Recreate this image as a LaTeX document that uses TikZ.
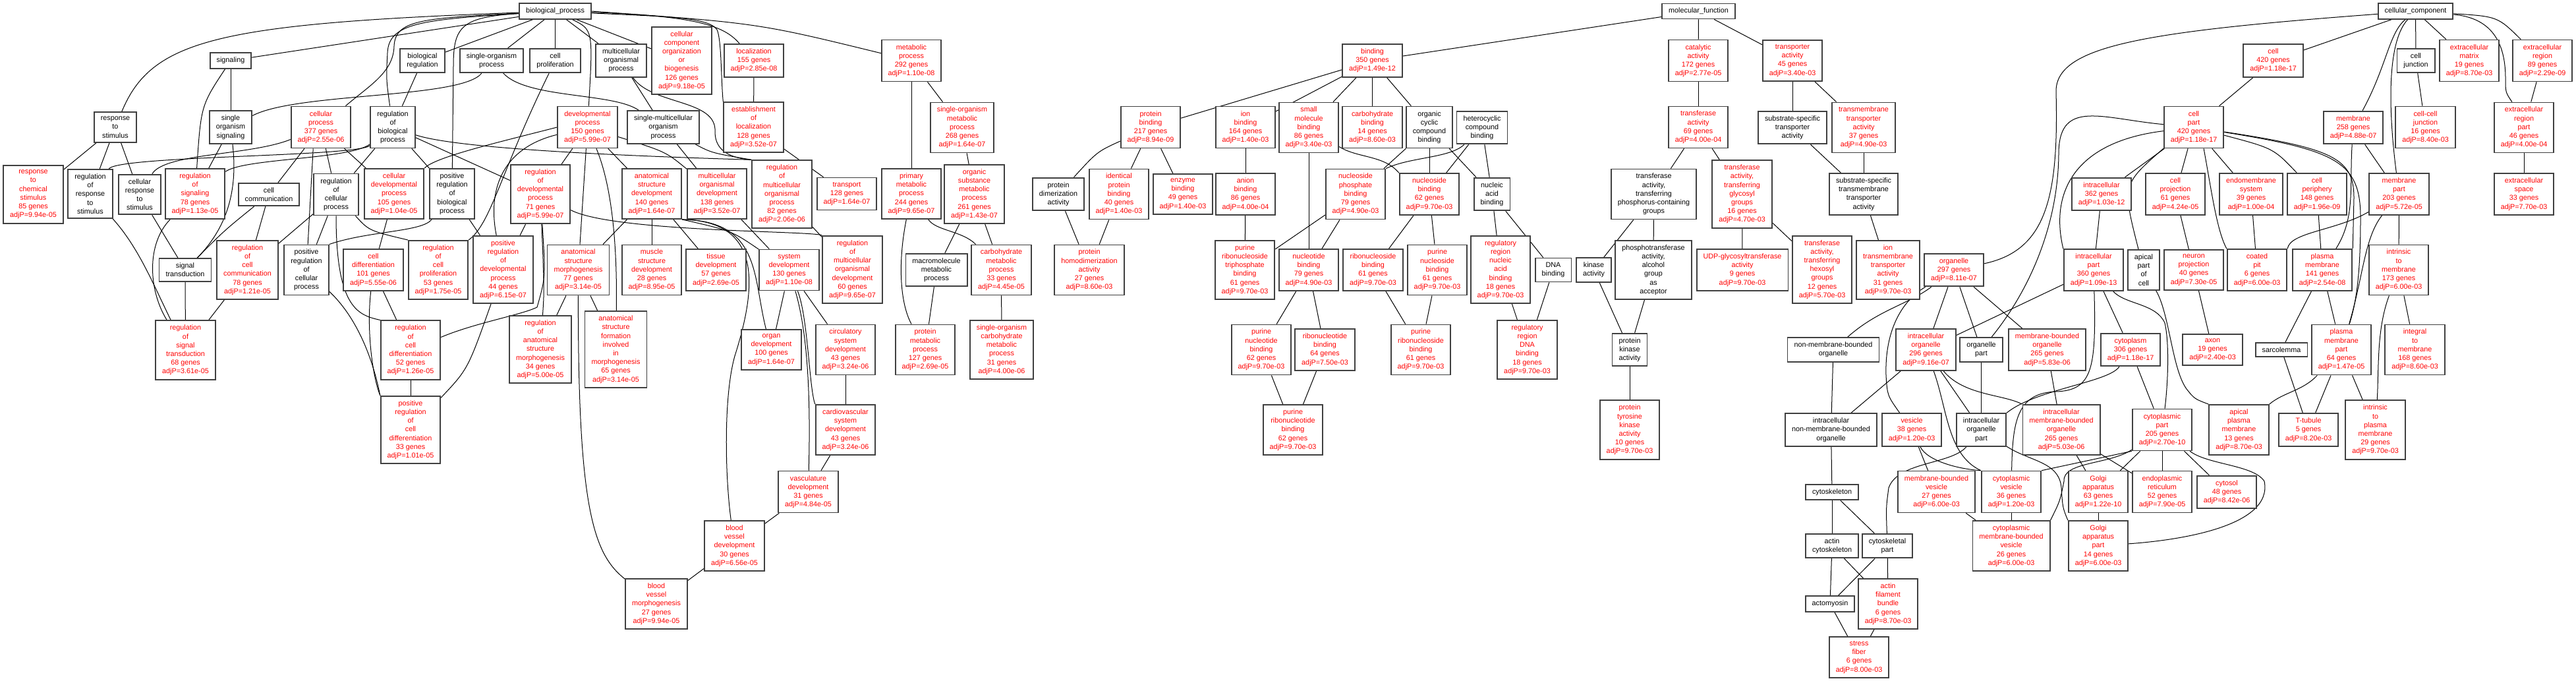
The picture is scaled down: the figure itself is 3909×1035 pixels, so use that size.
\documentclass[tikz,border=0pt]{standalone}
\usepackage{fontspec}
\newfontfamily\gofont{Liberation Sans}
\pgfdeclarelayer{bg}
\pgfdeclarelayer{edges}
\pgfsetlayers{bg,edges,main}

\begin{document}
\begin{tikzpicture}[x=0.5pt,y=-0.5pt,
  goterm/.style={draw=black!75,line width=0.9pt,fill=white,align=center,
    inner xsep=5pt,inner ysep=3.3pt,font={\gofont\fontsize{5.4}{6.6}\selectfont}},
  sigterm/.style={goterm,text=red},
  goedge/.style={line width=0.5pt,black}]
  \useasboundingbox (0,0) rectangle (3909,1035);
  \begin{pgfonlayer}{bg}
    \fill[white] (0,0) rectangle (3909,1035);
  \end{pgfonlayer}

  % biological process
  \node[goterm] (bp) at (842.5,17) {biological\_process};
  \node[goterm] (sig) at (350,92) {signaling};
  \node[goterm] (breg) at (641,92) {biological\\regulation};
  \node[goterm] (soproc) at (746,92) {single-organism\\process};
  \node[goterm] (cprolif) at (842.5,92) {cell\\proliferation};
  \node[goterm] (mop) at (942.5,92) {multicellular\\organismal\\process};
  \node[sigterm] (ccob) at (1034.5,92) {cellular\\component\\organization\\or\\biogenesis\\126 genes\\adjP=9.18e-05};
  \node[sigterm] (loc) at (1144,92) {localization\\155 genes\\adjP=2.85e-08};
  \node[sigterm] (metab) at (1383,92) {metabolic\\process\\292 genes\\adjP=1.10e-08};
  \node[goterm] (resp) at (175,193) {response\\to\\stimulus};
  \node[goterm] (sosig) at (350,193) {single\\organism\\signaling};
  \node[sigterm] (cproc) at (487,193) {cellular\\process\\377 genes\\adjP=2.55e-06};
  \node[goterm] (rbp) at (596,193) {regulation\\of\\biological\\process};
  \node[sigterm] (dev) at (891.5,193) {developmental\\process\\150 genes\\adjP=5.99e-07};
  \node[goterm] (smop) at (1006.5,193) {single-multicellular\\organism\\process};
  \node[sigterm] (estloc) at (1143.5,193) {establishment\\of\\localization\\128 genes\\adjP=3.52e-07};
  \node[sigterm] (sometab) at (1460,193.5) {single-organism\\metabolic\\process\\268 genes\\adjP=1.64e-07};
  \node[sigterm] (rchem) at (50.5,295) {response\\to\\chemical\\stimulus\\85 genes\\adjP=9.94e-05};
  \node[goterm] (rresp) at (137,294) {regulation\\of\\response\\to\\stimulus};
  \node[goterm] (cresp) at (212,295) {cellular\\response\\to\\stimulus};
  \node[sigterm] (rsig) at (296,294) {regulation\\of\\signaling\\78 genes\\adjP=1.13e-05};
  \node[goterm] (ccomm) at (408,295) {cell\\communication};
  \node[goterm] (rcproc) at (510,295) {regulation\\of\\cellular\\process};
  \node[sigterm] (cdev) at (598,294) {cellular\\developmental\\process\\105 genes\\adjP=1.04e-05};
  \node[goterm] (prbp) at (686,294) {positive\\regulation\\of\\biological\\process};
  \node[sigterm] (rdev) at (820,294.5) {regulation\\of\\developmental\\process\\71 genes\\adjP=5.99e-07};
  \node[sigterm] (asdev) at (989,294) {anatomical\\structure\\development\\140 genes\\adjP=1.64e-07};
  \node[sigterm] (modev) at (1088,294) {multicellular\\organismal\\development\\138 genes\\adjP=3.52e-07};
  \node[sigterm] (rmop) at (1186.5,294.5) {regulation\\of\\multicellular\\organismal\\process\\82 genes\\adjP=2.06e-06};
  \node[sigterm] (transp) at (1285,294) {transport\\128 genes\\adjP=1.64e-07};
  \node[sigterm] (pmetab) at (1383,294) {primary\\metabolic\\process\\244 genes\\adjP=9.65e-07};
  \node[sigterm] (osmetab) at (1478.5,294.5) {organic\\substance\\metabolic\\process\\261 genes\\adjP=1.43e-07};
  \node[goterm] (sigtr) at (281,409.5) {signal\\transduction};
  \node[sigterm] (rccomm) at (375.5,409.5) {regulation\\of\\cell\\communication\\78 genes\\adjP=1.21e-05};
  \node[goterm] (prcp) at (465,409.5) {positive\\regulation\\of\\cellular\\process};
  \node[sigterm] (cdiff) at (566.5,409.5) {cell\\differentiation\\101 genes\\adjP=5.55e-06};
  \node[sigterm] (rcprolif) at (665,409.5) {regulation\\of\\cell\\proliferation\\53 genes\\adjP=1.75e-05};
  \node[sigterm] (prdev) at (763.5,409) {positive\\regulation\\of\\developmental\\process\\44 genes\\adjP=6.15e-07};
  \node[sigterm] (asmorph) at (877.5,409.5) {anatomical\\structure\\morphogenesis\\77 genes\\adjP=3.14e-05};
  \node[sigterm] (msdev) at (989,409.5) {muscle\\structure\\development\\28 genes\\adjP=8.95e-05};
  \node[sigterm] (tdev) at (1086.5,409.5) {tissue\\development\\57 genes\\adjP=2.69e-05};
  \node[sigterm] (sysdev) at (1197.5,409.5) {system\\development\\130 genes\\adjP=1.10e-08};
  \node[sigterm] (rmodev) at (1293.5,409) {regulation\\of\\multicellular\\organismal\\development\\60 genes\\adjP=9.65e-07};
  \node[goterm] (mmetab) at (1421,409.5) {macromolecule\\metabolic\\process};
  \node[sigterm] (chmetab) at (1519.5,409.5) {carbohydrate\\metabolic\\process\\33 genes\\adjP=4.45e-05};
  \node[sigterm] (rsigtr) at (281.5,531) {regulation\\of\\signal\\transduction\\68 genes\\adjP=3.61e-05};
  \node[sigterm] (rcdiff) at (623,531) {regulation\\of\\cell\\differentiation\\52 genes\\adjP=1.26e-05};
  \node[sigterm] (rasmorph) at (820,530) {regulation\\of\\anatomical\\structure\\morphogenesis\\34 genes\\adjP=5.00e-05};
  \node[sigterm] (asform) at (934.5,530) {anatomical\\structure\\formation\\involved\\in\\morphogenesis\\65 genes\\adjP=3.14e-05};
  \node[sigterm] (orgdev) at (1170.5,530.5) {organ\\development\\100 genes\\adjP=1.64e-07};
  \node[sigterm] (circ) at (1283,530.5) {circulatory\\system\\development\\43 genes\\adjP=3.24e-06};
  \node[sigterm] (protmetab) at (1404,530.5) {protein\\metabolic\\process\\127 genes\\adjP=2.69e-05};
  \node[sigterm] (sochmetab) at (1520,530.5) {single-organism\\carbohydrate\\metabolic\\process\\31 genes\\adjP=4.00e-06};
  \node[sigterm] (prcdiff) at (623,652) {positive\\regulation\\of\\cell\\differentiation\\33 genes\\adjP=1.01e-05};
  \node[sigterm] (cardio) at (1283,652) {cardiovascular\\system\\development\\43 genes\\adjP=3.24e-06};
  \node[sigterm] (vasc) at (1226.5,746) {vasculature\\development\\31 genes\\adjP=4.84e-05};
  \node[sigterm] (bvdev) at (1114.5,828) {blood\\vessel\\development\\30 genes\\adjP=6.56e-05};
  \node[sigterm] (bvmorph) at (996,916) {blood\\vessel\\morphogenesis\\27 genes\\adjP=9.94e-05};

  % molecular function
  \node[goterm] (mf) at (2577.5,17) {molecular\_function};
  \node[sigterm] (bind) at (2082.5,92) {binding\\350 genes\\adjP=1.49e-12};
  \node[sigterm] (cat) at (2577,92) {catalytic\\activity\\172 genes\\adjP=2.77e-05};
  \node[sigterm] (transpact) at (2720,92) {transporter\\activity\\45 genes\\adjP=3.40e-03};
  \node[sigterm] (pbind) at (1746,193) {protein\\binding\\217 genes\\adjP=8.94e-09};
  \node[sigterm] (ionb) at (1890,193) {ion\\binding\\164 genes\\adjP=1.40e-03};
  \node[sigterm] (smb) at (1986,193.5) {small\\molecule\\binding\\86 genes\\adjP=3.40e-03};
  \node[sigterm] (chb) at (2082.5,193) {carbohydrate\\binding\\14 genes\\adjP=8.60e-03};
  \node[goterm] (occb) at (2169,193) {organic\\cyclic\\compound\\binding};
  \node[goterm] (hcb) at (2249,193.5) {heterocyclic\\compound\\binding};
  \node[sigterm] (trans) at (2577,193) {transferase\\activity\\69 genes\\adjP=4.00e-04};
  \node[goterm] (sstrans) at (2720,193.5) {substrate-specific\\transporter\\activity};
  \node[sigterm] (tmtrans) at (2828,193.5) {transmembrane\\transporter\\activity\\37 genes\\adjP=4.90e-03};
  \node[goterm] (pdimer) at (1606,294.5) {protein\\dimerization\\activity};
  \node[sigterm] (idpb) at (1698,294.5) {identical\\protein\\binding\\40 genes\\adjP=1.40e-03};
  \node[sigterm] (enzb) at (1795,294.5) {enzyme\\binding\\49 genes\\adjP=1.40e-03};
  \node[sigterm] (anionb) at (1890,294.5) {anion\\binding\\86 genes\\adjP=4.00e-04};
  \node[sigterm] (npb) at (2057,294.5) {nucleoside\\phosphate\\binding\\79 genes\\adjP=4.90e-03};
  \node[sigterm] (nsb) at (2169,294.5) {nucleoside\\binding\\62 genes\\adjP=9.70e-03};
  \node[goterm] (nab) at (2264,294.5) {nucleic\\acid\\binding};
  \node[goterm] (tpcg) at (2509.5,294.5) {transferase\\activity,\\transferring\\phosphorus-containing\\groups};
  \node[sigterm] (tgly) at (2643.5,294.5) {transferase\\activity,\\transferring\\glycosyl\\groups\\16 genes\\adjP=4.70e-03};
  \node[goterm] (sstmt) at (2828,294.5) {substrate-specific\\transmembrane\\transporter\\activity};
  \node[sigterm] (phomo) at (1653,409.5) {protein\\homodimerization\\activity\\27 genes\\adjP=8.60e-03};
  \node[sigterm] (prntb) at (1889,409.5) {purine\\ribonucleoside\\triphosphate\\binding\\61 genes\\adjP=9.70e-03};
  \node[sigterm] (ntb) at (1986,409.5) {nucleotide\\binding\\79 genes\\adjP=4.90e-03};
  \node[sigterm] (rnsb) at (2083.5,409.5) {ribonucleoside\\binding\\61 genes\\adjP=9.70e-03};
  \node[sigterm] (pnsb) at (2181,409.5) {purine\\nucleoside\\binding\\61 genes\\adjP=9.70e-03};
  \node[sigterm] (rrnab) at (2277,409) {regulatory\\region\\nucleic\\acid\\binding\\18 genes\\adjP=9.70e-03};
  \node[goterm] (dnab) at (2357,409.5) {DNA\\binding};
  \node[goterm] (kin) at (2418.5,409.5) {kinase\\activity};
  \node[goterm] (photr) at (2509,409.5) {phosphotransferase\\activity,\\alcohol\\group\\as\\acceptor};
  \node[sigterm] (udp) at (2644,409.5) {UDP-glycosyltransferase\\activity\\9 genes\\adjP=9.70e-03};
  \node[sigterm] (thex) at (2765,409) {transferase\\activity,\\transferring\\hexosyl\\groups\\12 genes\\adjP=5.70e-03};
  \node[sigterm] (iontm) at (2865,409.5) {ion\\transmembrane\\transporter\\activity\\31 genes\\adjP=9.70e-03};
  \node[sigterm] (pntb) at (1914,530.5) {purine\\nucleotide\\binding\\62 genes\\adjP=9.70e-03};
  \node[sigterm] (rntb) at (2010.5,530.5) {ribonucleotide\\binding\\64 genes\\adjP=7.50e-03};
  \node[sigterm] (prnsb) at (2156,530.5) {purine\\ribonucleoside\\binding\\61 genes\\adjP=9.70e-03};
  \node[sigterm] (rrdna) at (2317.5,530.5) {regulatory\\region\\DNA\\binding\\18 genes\\adjP=9.70e-03};
  \node[goterm] (pkin) at (2473,530.5) {protein\\kinase\\activity};
  \node[sigterm] (purntb) at (1962,652) {purine\\ribonucleotide\\binding\\62 genes\\adjP=9.70e-03};
  \node[sigterm] (ptk) at (2473,652) {protein\\tyrosine\\kinase\\activity\\10 genes\\adjP=9.70e-03};

  % cellular component
  \node[goterm] (cc) at (3665.5,17) {cellular\_component};
  \node[sigterm] (cell) at (3449.5,92) {cell\\420 genes\\adjP=1.18e-17};
  \node[goterm] (cj) at (3666,92) {cell\\junction};
  \node[sigterm] (ecm) at (3747,92) {extracellular\\matrix\\19 genes\\adjP=8.70e-03};
  \node[sigterm] (ecr) at (3858,92) {extracellular\\region\\89 genes\\adjP=2.29e-09};
  \node[sigterm] (cpart) at (3329,193) {cell\\part\\420 genes\\adjP=1.18e-17};
  \node[sigterm] (memb) at (3571,193.5) {membrane\\258 genes\\adjP=4.88e-07};
  \node[sigterm] (ccj) at (3680.5,193) {cell-cell\\junction\\16 genes\\adjP=8.40e-03};
  \node[sigterm] (ecrp) at (3830,193.5) {extracellular\\region\\part\\46 genes\\adjP=4.00e-04};
  \node[sigterm] (intra) at (3189,294.5) {intracellular\\362 genes\\adjP=1.03e-12};
  \node[sigterm] (cproj) at (3301,294.5) {cell\\projection\\61 genes\\adjP=4.24e-05};
  \node[sigterm] (endo) at (3416,294.5) {endomembrane\\system\\39 genes\\adjP=1.00e-04};
  \node[sigterm] (cperi) at (3516,294.5) {cell\\periphery\\148 genes\\adjP=1.96e-09};
  \node[sigterm] (mpart) at (3640.5,294.5) {membrane\\part\\203 genes\\adjP=5.72e-05};
  \node[sigterm] (ecs) at (3830,294.5) {extracellular\\space\\33 genes\\adjP=7.70e-03};
  \node[sigterm] (orgl) at (2965,409.5) {organelle\\297 genes\\adjP=8.11e-07};
  \node[sigterm] (intrap) at (3177,409.5) {intracellular\\part\\360 genes\\adjP=1.09e-13};
  \node[goterm] (apical) at (3253,409.5) {apical\\part\\of\\cell};
  \node[sigterm] (neuron) at (3329,409.5) {neuron\\projection\\40 genes\\adjP=7.30e-05};
  \node[sigterm] (cpit) at (3425,409.5) {coated\\pit\\6 genes\\adjP=6.00e-03};
  \node[sigterm] (pm) at (3524,409.5) {plasma\\membrane\\141 genes\\adjP=2.54e-08};
  \node[sigterm] (itm) at (3640,409.5) {intrinsic\\to\\membrane\\173 genes\\adjP=6.00e-03};
  \node[goterm] (nmbo) at (2782,530.5) {non-membrane-bounded\\organelle};
  \node[sigterm] (intorg) at (2922.5,530.5) {intracellular\\organelle\\296 genes\\adjP=9.16e-07};
  \node[goterm] (orgp) at (3006.5,530.5) {organelle\\part};
  \node[sigterm] (mbo) at (3106.5,530.5) {membrane-bounded\\organelle\\265 genes\\adjP=5.83e-06};
  \node[sigterm] (cyto) at (3233,530.5) {cytoplasm\\306 genes\\adjP=1.18e-17};
  \node[sigterm] (axon) at (3357.5,530.5) {axon\\19 genes\\adjP=2.40e-03};
  \node[goterm] (sarco) at (3462,530.5) {sarcolemma};
  \node[sigterm] (pmp) at (3553,530.5) {plasma\\membrane\\part\\64 genes\\adjP=1.47e-05};
  \node[sigterm] (intm) at (3664.5,530.5) {integral\\to\\membrane\\168 genes\\adjP=8.60e-03};
  \node[goterm] (inmbo) at (2778.5,652) {intracellular\\non-membrane-bounded\\organelle};
  \node[sigterm] (vesicle) at (2901,652) {vesicle\\38 genes\\adjP=1.20e-03};
  \node[goterm] (intorgp) at (3006.5,652) {intracellular\\organelle\\part};
  \node[sigterm] (imbo) at (3128,652) {intracellular\\membrane-bounded\\organelle\\265 genes\\adjP=5.03e-06};
  \node[sigterm] (cytop) at (3281,652) {cytoplasmic\\part\\205 genes\\adjP=2.70e-10};
  \node[sigterm] (apm) at (3397.5,652) {apical\\plasma\\membrane\\13 genes\\adjP=8.70e-03};
  \node[sigterm] (ttub) at (3503,652) {T-tubule\\5 genes\\adjP=8.20e-03};
  \node[sigterm] (itpm) at (3604.5,652) {intrinsic\\to\\plasma\\membrane\\29 genes\\adjP=9.70e-03};
  \node[goterm] (cytsk) at (2780,746.7) {cytoskeleton};
  \node[sigterm] (mbv) at (2938.5,746) {membrane-bounded\\vesicle\\27 genes\\adjP=6.00e-03};
  \node[sigterm] (cves) at (3052,746) {cytoplasmic\\vesicle\\36 genes\\adjP=1.20e-03};
  \node[sigterm] (golgi) at (3184,746) {Golgi\\apparatus\\63 genes\\adjP=1.22e-10};
  \node[sigterm] (er) at (3281,746) {endoplasmic\\reticulum\\52 genes\\adjP=7.90e-05};
  \node[sigterm] (cytosol) at (3379,746.5) {cytosol\\48 genes\\adjP=8.42e-06};
  \node[goterm] (actcs) at (2780,828) {actin\\cytoskeleton};
  \node[goterm] (cskp) at (2864,828) {cytoskeletal\\part};
  \node[sigterm] (cmbv) at (3052,828) {cytoplasmic\\membrane-bounded\\vesicle\\26 genes\\adjP=6.00e-03};
  \node[sigterm] (golgip) at (3184,828) {Golgi\\apparatus\\part\\14 genes\\adjP=6.00e-03};
  \node[goterm] (actomyo) at (2777,916) {actomyosin};
  \node[sigterm] (afb) at (2865,916) {actin\\filament\\bundle\\6 genes\\adjP=8.70e-03};
  \node[sigterm] (sfib) at (2821,997) {stress\\fiber\\6 genes\\adjP=8.00e-03};

  \begin{pgfonlayer}{edges}
  % straight parent-child links
  \foreach \a/\b in {bp/sig,bp/breg,bp/soproc,bp/cprolif,bp/mop,bp/ccob,
      breg/rbp,sig/sosig,resp/rchem,resp/rresp,resp/cresp,sosig/rsig,
      cproc/ccomm,cproc/rcproc,cproc/cdev,rbp/rcproc,rbp/prbp,rbp/rdev,
      cresp/sigtr,ccomm/rccomm,rcproc/rccomm,rcproc/prcp,cdev/cdiff,
      cdiff/rcdiff,sigtr/rsigtr,rccomm/rsigtr,rcdiff/prcdiff,
      loc/estloc,estloc/transp,mop/smop,smop/modev,dev/rdev,dev/asdev,
      dev/asmorph,prbp/prdev,rdev/prdev,asdev/asmorph,asdev/msdev,asdev/tdev,
      modev/sysdev,rmop/rmodev,asmorph/rasmorph,asmorph/asform,sysdev/orgdev,
      sysdev/circ,circ/cardio,cardio/vasc,vasc/bvdev,bvdev/bvmorph,
      metab/pmetab,metab/sometab,sometab/osmetab,osmetab/mmetab,
      osmetab/chmetab,mmetab/protmetab,chmetab/sochmetab}
    \draw[goedge] (\a) -- (\b);
  \foreach \a/\b in {mf/bind,mf/cat,mf/transpact,bind/pbind,bind/ionb,
      bind/smb,bind/chb,bind/occb,pbind/idpb,pbind/enzb,pdimer/phomo,
      idpb/phomo,ionb/anionb,anionb/prntb,npb/prntb,ntb/pntb,pntb/purntb,
      rntb/purntb,ntb/rntb,smb/ntb,occb/npb,occb/nsb,hcb/nsb,occb/nab,
      hcb/nab,nab/dnab,npb/ntb,nsb/rnsb,nsb/pnsb,nab/rrnab,rnsb/prnsb,
      pnsb/prnsb,rrnab/rrdna,dnab/rrdna,cat/trans,trans/tpcg,trans/tgly,
      tpcg/photr,tpcg/kin,kin/pkin,photr/pkin,pkin/ptk,tgly/udp,tgly/thex,
      transpact/sstrans,transpact/tmtrans,sstrans/sstmt,tmtrans/sstmt,
      sstmt/iontm}
    \draw[goedge] (\a) -- (\b);
  \foreach \a/\b in {cc/cell,cc/cj,cc/ecm,cell/cpart,cj/ccj,ecr/ecrp,
      ecrp/ecs,cpart/intra,cpart/cproj,cpart/endo,intra/intrap,
      cproj/neuron,neuron/axon,endo/cpit,cperi/pm,mpart/itm,memb/mpart,
      itm/intm,pm/pmp,pm/sarco,pmp/itpm,pmp/ttub,sarco/ttub,intrap/intorg,
      intrap/cyto,orgl/intorg,orgl/orgp,orgl/mbo,nmbo/inmbo,intorg/inmbo,
      orgp/intorgp,intorg/intorgp,mbo/imbo,cyto/cytop,cytop/er,
      cytop/cytosol,cytop/golgi,imbo/golgi,imbo/er,golgi/golgip,
      vesicle/mbv,cves/cmbv,mbv/cmbv,inmbo/cytsk,cytsk/actcs,cytsk/cskp,
      actcs/actomyo,actcs/afb,cskp/afb,cskp/actomyo,actomyo/sfib,afb/sfib}
    \draw[goedge] (\a) -- (\b);

  % routed links, biological process
  \draw[goedge] (bp) .. controls (330,36) and (230,60) .. (resp);
  \draw[goedge] (bp) .. controls (640,28) and (600,30) .. (598,70)
    .. controls (597,110) and (560,130) .. (cproc);
  \draw[goedge] (bp) .. controls (640,30) and (590,35) .. (588,80)
    .. controls (586,120) .. (rbp);
  \draw[goedge] (bp) .. controls (700,26) and (688,40) .. (688,100) -- (prbp);
  \draw[goedge] (bp) .. controls (900,45) .. (dev);
  \draw[goedge] (bp) .. controls (1060,24) and (1100,40) .. (loc);
  \draw[goedge] (bp) .. controls (1000,25) and (1075,25) .. (1088,45)
    .. controls (1095,60) and (1094,120) .. (estloc.north west);
  \draw[goedge] (bp.east) .. controls (1150,35) .. (metab);
  \draw[goedge] (soproc) .. controls (700,150) and (450,140) .. (sosig);
  \draw[goedge] (soproc) .. controls (800,150) and (930,140) .. (smop);
  \draw[goedge] (rbp) .. controls (700,228) and (1000,238) .. (rmop.north west);
  \draw[goedge] (cdev.north east) .. controls (660,238) and (760,215) .. (dev.west);
  \draw[goedge] (cproc) .. controls (380,236) and (250,232) .. (cresp);
  \draw[goedge] (rbp) .. controls (540,238) and (180,236) .. (rresp);
  \draw[goedge] (rbp) .. controls (530,242) and (370,240) .. (rsig);
  \draw[goedge] (sig) .. controls (305,160) .. (rsig);
  \draw[goedge] (sosig) .. controls (360,280) and (350,340) .. (sigtr);
  \draw[goedge] (ccomm) .. controls (340,350) .. (sigtr);
  \draw[goedge] (rresp) .. controls (210,375) and (232,430) .. (rsigtr);
  \draw[goedge] (rsig) .. controls (222,370) and (225,440) .. (rsigtr);
  \draw[goedge] (rcproc) .. controls (510,470) and (545,478) .. (rcdiff.north west);
  \draw[goedge] (rcproc) .. controls (560,350) .. (rcprolif.north west);
  \draw[goedge] (cproc.250) -- (prcp);
  \draw[goedge] (cprolif) .. controls (760,260) and (745,340) .. (rcprolif.north east);
  \draw[goedge] (dev) .. controls (760,225) and (740,290) .. (prdev);
  \draw[goedge] (dev) .. controls (936,300) and (936,420) .. (asform);
  \draw[goedge] (dev) .. controls (1010,230) .. (modev);
  \draw[goedge] (mop) .. controls (990,160) and (1088,150) .. (1085,200)
    .. controls (1085,230) and (1110,240) .. (rmop.north west);
  \draw[goedge] (smop) .. controls (1080,232) .. (rmop.north west);
  \draw[goedge] (rdev) .. controls (930,352) and (1230,350) .. (rmodev.north west);
  \draw[goedge] (asdev.south east) .. controls (1110,350) .. (sysdev);
  \draw[goedge] (asdev.south east) .. controls (1155,335) and (1142,420) .. (orgdev);
  \draw[goedge] (asdev.south east) .. controls (1155,335) and (1150,430) .. (1115,540)
    .. controls (1098,600) and (1100,720) .. (bvdev);
  \draw[goedge] (sysdev) .. controls (1226,480) and (1228,590) .. (cardio.north west);
  \draw[goedge] (sysdev) .. controls (1230,520) and (1229,640) .. (vasc);
  \draw[goedge] (asmorph) .. controls (877,770) and (900,840) .. (bvmorph);
  \draw[goedge] (rdev) .. controls (826,440) .. (rasmorph);
  \draw[goedge] (rdev) .. controls (828,420) .. (815,466)
    .. controls (790,478) and (720,490) .. (rcdiff);
  \draw[goedge] (prdev) .. controls (710,560) .. (prcdiff);
  \draw[goedge] (prbp) .. controls (640,352) and (560,350) .. (prcp.north east);
  \draw[goedge] (cdiff) .. controls (556,500) and (565,570) .. (prcdiff.north west);
  \draw[goedge] (prcp) .. controls (540,480) and (565,540) .. (prcdiff.north west);
  \draw[goedge] (pmetab) .. controls (1362,400) and (1366,460) .. (protmetab);
  \draw[goedge] (pmetab) .. controls (1420,350) and (1460,350) .. (chmetab);

  % routed links, molecular function
  \draw[goedge] (pbind) .. controls (1665,230) .. (pdimer);
  \draw[goedge] (smb) .. controls (2060,240) and (2100,235) .. (nsb.north west);
  \draw[goedge] (hcb) .. controls (2200,240) and (2140,238) .. (npb.north east);

  % routed links, cellular component
  \draw[goedge] (cc) .. controls (3790,25) .. (ecr);
  \draw[goedge] (cc) .. controls (3250,48) and (3118,70) .. (3120,140)
    .. controls (3124,300) and (3105,380) .. (orgl);
  \draw[goedge] (cpart) .. controls (3190,180) and (3126,150) .. (3124,230)
    .. controls (3124,340) and (3080,440) .. (orgp);
  \draw[goedge] (cpart) .. controls (3150,215) and (3110,290) .. (intrap.north west);
  \draw[goedge] (cpart.south west) .. controls (3220,280) .. (apical);
  \draw[goedge] (cpart.-65) .. controls (3356,290) and (3364,350) .. (cpit.north west);
  \draw[goedge] (cpart) .. controls (3450,225) .. (cperi);
  \draw[goedge] (cpart) .. controls (3540,225) and (3572,240) .. (3572,300) -- (pm.north east);
  \draw[goedge] (cpart) .. controls (3545,228) and (3582,245) .. (3582,330)
    .. controls (3582,420) and (3575,460) .. (pmp);
  \draw[goedge] (cc) .. controls (3625,50) and (3622,100) .. (memb);
  \draw[goedge] (cc) .. controls (3625,60) and (3622,150) .. (mpart);
  \draw[goedge] (cc) .. controls (3792,28) and (3802,80) .. (3802,120)
    .. controls (3802,140) .. (ecrp.115);
  \draw[goedge] (memb) .. controls (3565,280) and (3575,330) .. (pm);
  \draw[goedge] (mpart) .. controls (3545,350) and (3475,352) .. (cpit.north east);
  \draw[goedge] (mpart) .. controls (3588,360) and (3586,420) .. (pmp);
  \draw[goedge] (itm) .. controls (3606,500) and (3610,560) .. (itpm);
  \draw[goedge] (apical) .. controls (3292,475) and (3296,560) .. (3318,590)
    .. controls (3330,605) .. (apm.north west);
  \draw[goedge] (intrap) .. controls (3225,462) and (3272,460) .. (3285,490)
    .. controls (3292,520) and (3290,580) .. (cytop);
  \draw[goedge] (pmp) .. controls (3494,593) and (3465,595) .. (apm.north east);
  \draw[goedge] (cytop) .. controls (3350,705) and (3420,705) .. (3436,730)
    .. controls (3450,800) and (3300,820) .. (golgip);
  \draw[goedge] (cytop.south west) -- (cves.north east);
  \draw[goedge] (cytop) .. controls (3200,705) and (3130,700) .. (3132,730)
    .. controls (3126,760) .. (cmbv.north east);
  \draw[goedge] (intorg) .. controls (2980,600) and (3040,598) .. (imbo.north west);
  \draw[goedge] (intorg) .. controls (2955,620) and (2955,690) .. (cves.north west);
  \draw[goedge] (vesicle) .. controls (2925,700) and (2975,712) .. (cves.north west);
  \draw[goedge] (intrap) .. controls (3181,560) and (3175,592) .. (3120,594)
    .. controls (3060,596) and (3054,640) .. (cves);
  \draw[goedge] (cyto) .. controls (3200,580) and (3090,590) .. (intorgp.north east);
  \draw[goedge] (intorgp) .. controls (3080,700) and (3125,700) .. (3128,740)
    .. controls (3130,770) .. (golgip.north west);
  \draw[goedge] (intorgp) .. controls (2960,705) and (2880,700) .. (2866,740)
    .. controls (2862,770) .. (cskp);
  \draw[goedge] (orgl) .. controls (2895,462) and (2850,470) .. (nmbo);
  \draw[goedge] (orgl) .. controls (2880,460) and (2860,510) .. (2862,570)
    .. controls (2864,600) .. (vesicle);
  \end{pgfonlayer}
\end{tikzpicture}
\end{document}
